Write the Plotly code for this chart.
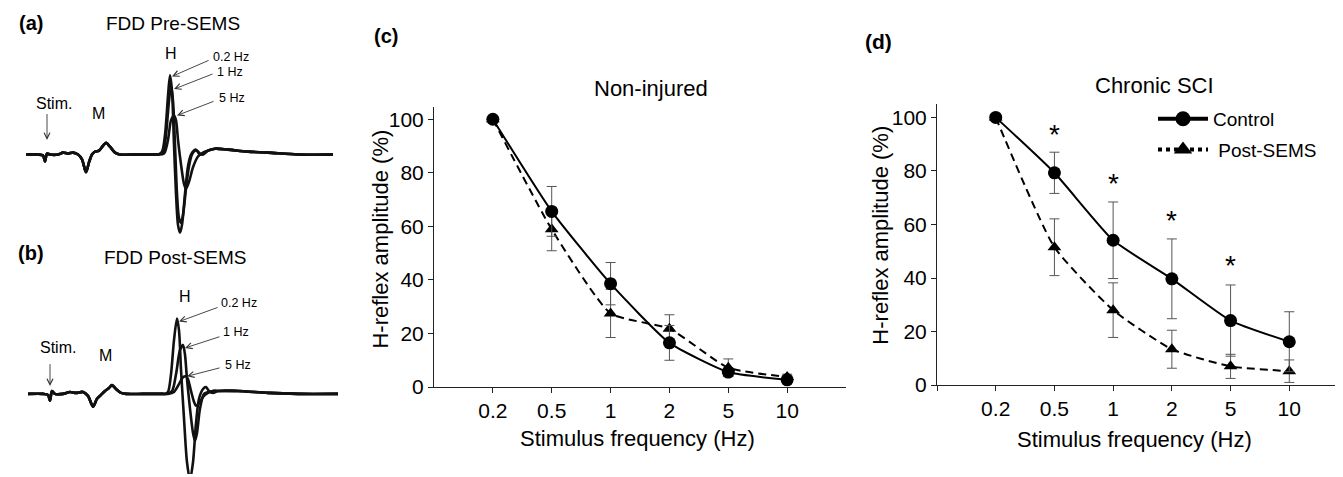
import plotly.graph_objects as go

W, H = 1343, 477
FONT = "Arial, Liberation Sans, sans-serif"

# ---------------- Panels (a)/(b): EMG sweeps (time, amplitude; arbitrary units)
# (a) FDD Pre-SEMS
a_pre_t = [18, 30, 35, 37, 39, 42, 50, 55, 60, 65, 70, 74, 78, 81, 84, 87, 91, 95, 98, 102, 107, 112, 130, 148]
a_pre_amp = [0, 0, -1, -7, 1, 0, 0, 2, 1, 2, 0, -5, -18, -8, 0, 3, 4, 9, 12, 8, 2, 0, 0, 0]
a_tail_t = [220, 240, 260, 290, 325]
a_tail_amp = [5, 3, 2, 0, 0]
a_02_t = [150, 154, 157, 160, 162, 164, 166, 168, 170, 172, 174, 177, 180, 183, 186, 188, 191, 194, 200, 207]
a_02_amp = [0, 3, 20, 60, 81, 65, 10, -40, -72, -80, -72, -40, -12, 0, 4, 5, 1, 0, 4, 6]
a_1_t = [150, 155, 158, 161, 163, 165, 167, 169, 171, 173, 175, 178, 181, 184, 187, 189, 192, 195, 200, 207]
a_1_amp = [0, 2, 20, 55, 70, 55, 10, -40, -65, -70, -62, -35, -12, 0, 4, 4, 1, 0, 4, 6]
a_5_t = [150, 156, 160, 163, 166, 168, 170, 173, 176, 178, 181, 185, 190, 195, 200, 207]
a_5_amp = [0, 1, 15, 35, 40, 35, 15, -10, -30, -35, -28, -13, -2, 2, 4, 6]

# (b) FDD Post-SEMS
b_pre_t = [20, 35, 40, 42, 44, 47, 55, 62, 68, 75, 80, 85, 89, 93, 97, 101, 104, 108, 113, 118, 135, 155]
b_pre_amp = [0, 0, -1, -7, 3, 0, 0, 2, 1, 2, -2, -13, -5, -1, 3, 6, 9, 5, 1, 0, 0, 0]
b_tail_t = [230, 260, 290, 330]
b_tail_amp = [3, 1, 0, 0]
b_02_t = [157, 160, 163, 166, 169, 171, 173, 176, 179, 182, 185, 188, 191, 195, 198, 201, 205, 210]
b_02_amp = [0, 2, 20, 55, 77, 65, 25, -25, -70, -88, -70, -30, -5, 5, 7, 3, 1, 3]
b_1_t = [158, 164, 168, 172, 175, 177, 179, 182, 185, 187, 189, 192, 196, 200, 205, 210]
b_1_amp = [0, 3, 20, 45, 50, 40, 15, -15, -40, -48, -40, -15, 0, 2, 3, 3]
b_5_t = [160, 166, 171, 175, 178, 180, 183, 186, 188, 191, 195, 200, 205, 210]
b_5_amp = [0, 2, 10, 17, 18, 15, 3, -8, -12, -10, -3, 1, 3, 3]

# ---------------- Panels (c)/(d): H-reflex frequency depression
freq_labels = ["0.2", "0.5", "1", "2", "5", "10"]
c_control = [100, 65.6, 38.6, 16.5, 5.6, 2.7]
c_control_err = [0, 9.3, 7.9, 6.5, 1.5, 1.0]
c_post = [100, 58.9, 27.5, 21.8, 7.2, 3.8]
c_post_err = [0, 8.0, 9.0, 5.2, 3.3, 1.0]

d_control = [100, 79.3, 54.1, 39.7, 24.1, 16.2]
d_control_err = [0, 7.7, 14.3, 14.9, 13.3, 11.2]
d_post = [100, 51.5, 28.0, 13.4, 7.0, 5.2]
d_post_err = [0, 10.6, 10.2, 7.1, 4.5, 4.2]
d_star_idx = [1, 2, 3, 4]
d_star_y = [96, 77.7, 63.6, 46.8]

xi = list(range(len(freq_labels)))


def px(x):
    return x / W


def py(y):
    return (H - y) / H


fig = go.Figure()

wave_line = dict(color="#111111", width=2.6, shape="spline", smoothing=0.8)
for t, amp in [(a_02_t, a_02_amp), (a_1_t, a_1_amp), (a_5_t, a_5_amp)]:
    fig.add_trace(go.Scatter(x=a_pre_t + t + a_tail_t, y=a_pre_amp + amp + a_tail_amp,
                             mode="lines", line=wave_line, showlegend=False,
                             xaxis="x", yaxis="y", hoverinfo="skip"))
for t, amp in [(b_02_t, b_02_amp), (b_1_t, b_1_amp), (b_5_t, b_5_amp)]:
    fig.add_trace(go.Scatter(x=b_pre_t + t + b_tail_t, y=b_pre_amp + amp + b_tail_amp,
                             mode="lines", line=wave_line, showlegend=False,
                             xaxis="x2", yaxis="y2", hoverinfo="skip"))

err_style = dict(type="data", color="#555555", thickness=1, width=5)


def add_pair(ctrl, ctrl_err, post, post_err, xa, ya):
    fig.add_trace(go.Scatter(x=xi, y=post, mode="lines+markers",
                             line=dict(color="black", width=2, dash="8px,5px", shape="spline", smoothing=0.5),
                             marker=dict(symbol="triangle-up", size=12, color="black"),
                             error_y=dict(array=post_err, **err_style),
                             showlegend=False, xaxis=xa, yaxis=ya, cliponaxis=False))
    fig.add_trace(go.Scatter(x=xi, y=ctrl, mode="lines+markers",
                             line=dict(color="black", width=2, shape="spline", smoothing=0.5),
                             marker=dict(symbol="circle", size=13, color="black"),
                             error_y=dict(array=ctrl_err, **err_style),
                             showlegend=False, xaxis=xa, yaxis=ya, cliponaxis=False))


add_pair(c_control, c_control_err, c_post, c_post_err, "x3", "y3")
add_pair(d_control, d_control_err, d_post, d_post_err, "x4", "y4")

# legend entries (panel d)
fig.add_trace(go.Scatter(x=[None], y=[None], mode="lines+markers", name="Control", legendgroup="g1",
                         line=dict(color="black", width=4),
                         marker=dict(symbol="circle", size=15, color="black"),
                         xaxis="x4", yaxis="y4"))
fig.add_trace(go.Scatter(x=[None], y=[None], mode="lines+markers", name=" Post-SEMS", legendgroup="g2",
                         line=dict(color="black", width=4, dash="dot"),
                         marker=dict(symbol="triangle-up", size=16, color="black"),
                         xaxis="x4", yaxis="y4"))

hidden = dict(visible=False, showgrid=False, zeroline=False, fixedrange=True)
tickfont = dict(family=FONT, size=21, color="black")
common_x = dict(range=[-1, 6], showline=True, linecolor="#222", linewidth=1, ticks="outside",
                ticklen=5, tickcolor="#222", showgrid=False, zeroline=False, tickfont=tickfont)
common_y = dict(showline=True, linecolor="#222", linewidth=1, ticks="outside", ticklen=5,
                tickcolor="#222", showgrid=False, zeroline=False, tickvals=[0, 20, 40, 60, 80, 100],
                tickfont=tickfont)

fig.update_layout(
    width=W, height=H, margin=dict(l=0, r=0, t=0, b=0),
    paper_bgcolor="white", plot_bgcolor="white",
    font=dict(family=FONT, color="black"),
    xaxis=dict(domain=[0, px(340)], range=[0, 340], **hidden),
    yaxis=dict(domain=[py(238), 1], range=[-88, 150], **hidden),
    xaxis2=dict(domain=[0, px(340)], range=[0, 340], **hidden),
    yaxis2=dict(domain=[0, py(239)], range=[-82, 156], **hidden),
    xaxis3=dict(domain=[px(426), px(838)], anchor="y3", tickvals=xi, ticktext=freq_labels, **common_x),
    yaxis3=dict(domain=[py(388), py(101)], range=[0, 104.7], anchor="x3", **common_y),
    xaxis4=dict(domain=[px(929), px(1340)], anchor="y4", tickvals=[-1] + xi + [6],
                ticktext=[""] + freq_labels + [""], **common_x),
    yaxis4=dict(domain=[py(386), py(98)], range=[0, 105.1], anchor="x4", **common_y),
    legend=dict(x=px(1145), y=py(94), xanchor="left", yanchor="top", font=dict(family=FONT, size=19),
                bgcolor="rgba(0,0,0,0)", itemwidth=50, tracegroupgap=3),
)

ann = []


def txt(x, y, s, size, bold=False, **kw):
    ann.append(dict(x=px(x), y=py(y), xref="paper", yref="paper", text=f"<b>{s}</b>" if bold else s,
                    xanchor="center", yanchor="middle",
                    showarrow=False, font=dict(family=FONT, size=size, color="black"), **kw))


# panel labels and titles
txt(23, 15, "(a)", 20, bold=True)
txt(165, 16, "FDD Pre-SEMS", 19)
txt(23, 251, "(b)", 20, bold=True)
txt(167, 255, "FDD Post-SEMS", 19)
txt(378, 29, "(c)", 20, bold=True)
txt(871, 34, "(d)", 21, bold=True)
txt(643, 82, "Non-injured", 22)
txt(1146, 79, "Chronic SCI", 22)
txt(629, 441, "Stimulus frequency (Hz)", 22)
txt(1126, 442, "Stimulus frequency (Hz)", 22)
txt(373, 237, "H-reflex amplitude (%)", 22, textangle=-90)
txt(873, 233, "H-reflex amplitude (%)", 22, textangle=-90)


def dtxt(xa, ya, x, y, s, size, xanchor="center", **kw):
    ann.append(dict(x=x, y=y, xref=xa, yref=ya, text=s, showarrow=False, xanchor=xanchor,
                    yanchor="middle", font=dict(family=FONT, size=size, color="black"), **kw))


def arrow(xa, ya, x0, y0, x1, y1):
    ann.append(dict(x=x1, y=y1, ax=x0, ay=y0, xref=xa, yref=ya, axref=xa, ayref=ya, text="",
                    showarrow=True, arrowhead=5, arrowsize=1.3, arrowwidth=0.9, arrowcolor="#333"))


# (a) labels
dtxt("x", "y", 163, 103, "H", 16)
dtxt("x", "y", 203, 100, "0.2 Hz", 12.5, xanchor="left")
dtxt("x", "y", 207, 85, "1 Hz", 12.5, xanchor="left")
dtxt("x", "y", 209, 58, "5 Hz", 12.5, xanchor="left")
dtxt("x", "y", 46, 52, "Stim.", 16)
dtxt("x", "y", 90, 42, "M", 16)
arrow("x", "y", 202, 97, 164, 80)
arrow("x", "y", 206, 83, 166, 67)
arrow("x", "y", 207, 55, 169, 40)
arrow("x", "y", 39, 43, 39, 15)
# (b) labels
dtxt("x2", "y2", 177, 100, "H", 16)
dtxt("x2", "y2", 211, 93, "0.2 Hz", 12.5, xanchor="left")
dtxt("x2", "y2", 213, 63, "1 Hz", 12.5, xanchor="left")
dtxt("x2", "y2", 215, 30, "5 Hz", 12.5, xanchor="left")
dtxt("x2", "y2", 50, 47, "Stim.", 16)
dtxt("x2", "y2", 97, 39, "M", 16)
arrow("x2", "y2", 211, 89, 171, 74)
arrow("x2", "y2", 213, 59, 177, 47)
arrow("x2", "y2", 213, 27, 179, 18)
arrow("x2", "y2", 42, 32, 42, 8)

# significance stars
for i, yv in zip(d_star_idx, d_star_y):
    dtxt("x4", "y4", i, yv, "*", 28, yshift=-6)

fig.update_layout(annotations=ann)
fig.write_html("out.html")
